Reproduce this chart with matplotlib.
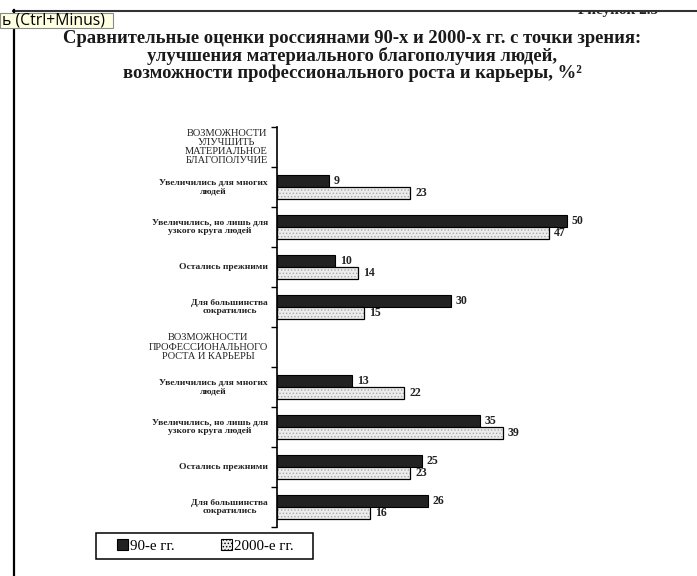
import matplotlib
matplotlib.use("Agg")
import matplotlib.pyplot as plt
from matplotlib.patches import Rectangle, Patch
from matplotlib.lines import Line2D
import numpy as np

plt.rcParams['font.family'] = ['Liberation Serif', 'DejaVu Serif']
plt.rcParams['hatch.linewidth'] = 0.6

# data
title = ("Сравнительные оценки россиянами 90-х и 2000-х гг. с точки зрения:\n"
         "улучшения материального благополучия людей,\n"
         "возможности профессионального роста и карьеры, %²")
rows = ["ВОЗМОЖНОСТИ\nУЛУЧШИТЬ\nМАТЕРИАЛЬНОЕ\nБЛАГОПОЛУЧИЕ",
        "Увеличились для многих\nлюдей",
        "Увеличились, но лишь для\nузкого круга людей",
        "Остались прежними",
        "Для большинства\nсократились",
        "ВОЗМОЖНОСТИ\nПРОФЕССИОНАЛЬНОГО\nРОСТА И КАРЬЕРЫ",
        "Увеличились для многих\nлюдей",
        "Увеличились, но лишь для\nузкого круга людей",
        "Остались прежними",
        "Для большинства\nсократились"]
is_header = [True, False, False, False, False, True, False, False, False, False]
vals_90 = [None, 9, 50, 10, 30, None, 13, 35, 25, 26]
vals_2000 = [None, 23, 47, 14, 15, None, 22, 39, 23, 16]
legend_labels = ["90-е гг.", "2000-е гг."]

W, H = 697, 576
fig = plt.figure(figsize=(W / 100, H / 100), dpi=100)

def fx(x):
    return x / W

def fy(y):
    return 1 - y / H

# page frame of the scanned document
fig.add_artist(Line2D([fx(13), 1], [fy(10.5), fy(10.5)], color='#333333', lw=1.5, zorder=5))
fig.add_artist(Line2D([fx(14), fx(14)], [fy(10), 0], color='black', lw=1.6, zorder=5))
fig.text(fx(618), fy(14), "Рисунок 2.5", ha='center', va='baseline', fontsize=11,
         fontweight='bold', color='#222222', zorder=2)
fig.add_artist(Rectangle((0, fy(11.5)), 1, 1 - fy(11.5), transform=fig.transFigure,
                         facecolor='white', edgecolor='none', zorder=3))

# tooltip from the screenshot
fig.add_artist(Rectangle((0, fy(28)), fx(113), fy(13) - fy(28), transform=fig.transFigure,
                         facecolor='#ffffe1', edgecolor='#8a8a8a', lw=0.8, zorder=6))
fig.text(fx(2), fy(20.5), "ь (Ctrl+Minus)", ha='left', va='center', fontsize=11.3,
         family=['Open Sans', 'DejaVu Sans'], color='black', zorder=7)

fig.text(fx(352), fy(56), title, ha='center', va='center', fontsize=13.4, fontweight='bold',
         linespacing=1.0, color='#1a1a1a', zorder=4)

ax = fig.add_axes([fx(277), fy(527), 347.4 / W, 400 / H])
n = len(rows)
ys = np.arange(n) + 0.5
bh = 0.29

for i in range(n):
    if vals_90[i] is None:
        continue
    ax.barh(ys[i] - bh / 2, vals_90[i], height=bh, color='#222222', edgecolor='black', lw=0.8)
    ax.barh(ys[i] + bh / 2, vals_2000[i], height=bh, color='#ececec', edgecolor='none')
    ax.barh(ys[i] + bh / 2, vals_2000[i], height=bh, fill=False, hatch='.....',
            edgecolor='#a8a8a8', lw=0)
    ax.barh(ys[i] + bh / 2, vals_2000[i], height=bh, fill=False, edgecolor='black', lw=0.9)
    ax.annotate(str(vals_90[i]), (vals_90[i], ys[i] - bh / 2), xytext=(5, 0),
                textcoords='offset pixels', va='center', ha='left', fontsize=8.5,
                fontweight='bold', color='#222222')
    ax.annotate(str(vals_2000[i]), (vals_2000[i], ys[i] + bh / 2), xytext=(5, 0),
                textcoords='offset pixels', va='center', ha='left', fontsize=8.5,
                fontweight='bold', color='#222222')

for i in range(n):
    if is_header[i]:
        size, weight, ls = 7.5, 'normal', 1.04
    else:
        size, weight, ls = 6.8, 'bold', 1.12
    ax.annotate(rows[i], (0, ys[i]), xytext=(-9, 0), textcoords='offset pixels',
                ha='right', va='center', multialignment='center', fontsize=size,
                fontweight=weight, linespacing=ls, color='#222222')

ax.set_ylim(n, 0)
ax.set_xlim(0, 60)
ax.set_yticks(np.arange(n + 1))
ax.set_yticklabels([])
ax.tick_params(axis='y', direction='out', length=4, width=1, color='black')
ax.set_xticks([])
for s in ['top', 'right', 'bottom']:
    ax.spines[s].set_visible(False)
ax.spines['left'].set_linewidth(1.2)
ax.spines['left'].set_color('black')
ax.patch.set_alpha(0)

# legend
handles = [Patch(facecolor='#222222', edgecolor='black', lw=0.8),
           Patch(facecolor='#ececec', edgecolor='black', lw=0.8, hatch='.....')]
fig.legend(handles, legend_labels, ncol=2, loc='center', bbox_to_anchor=(fx(205), fy(546)),
           frameon=False, handlelength=0.75, handleheight=0.75,
           handletextpad=0.12, columnspacing=3.1, prop={'family': 'Liberation Serif', 'size': 10.8})
fig.add_artist(Rectangle((fx(96), fy(559)), fx(313) - fx(96), fy(533) - fy(559),
                         transform=fig.transFigure, facecolor='none', edgecolor='black', lw=1.1))

fig.savefig("out.png", dpi=100)
